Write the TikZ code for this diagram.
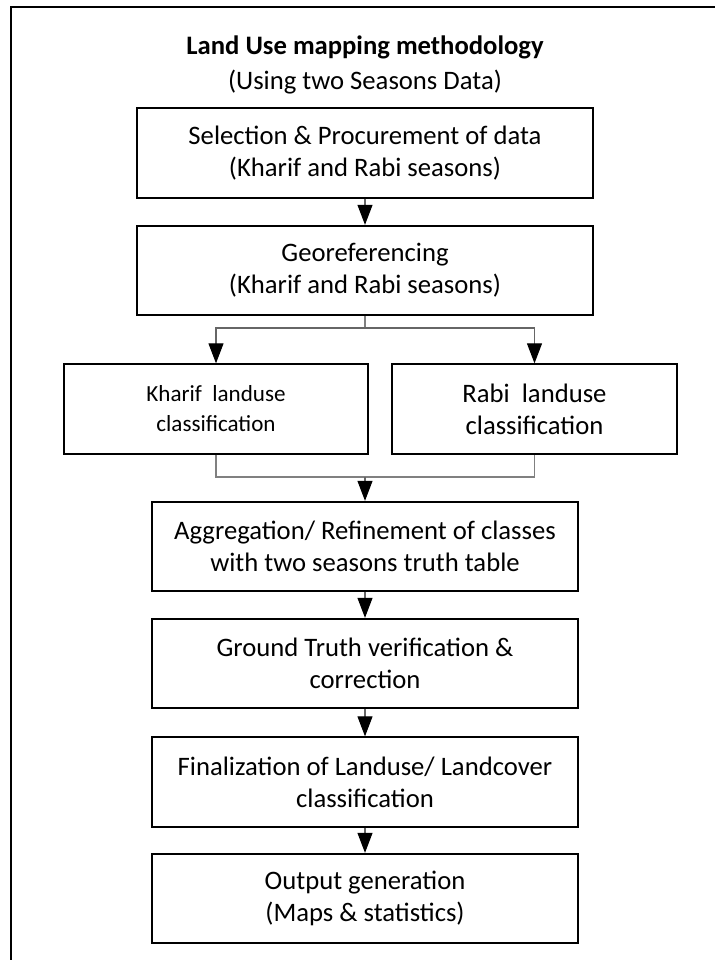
\documentclass[tikz,border=0pt]{standalone}
\usepackage{fontspec}
\setmainfont{Carlito}
\usepackage{tikz}
\usetikzlibrary{arrows.meta}
\tikzset{>={Triangle[length=15pt, width=11.25pt, black]}}
\tikzset{font=\fontsize{20}{24}\selectfont}
\tikzset{stage/.style={draw, line width=1.5pt, align=center, inner sep=0pt, minimum height=67pt},
  widebox/.style={stage, minimum width=342pt},
  narrowbox/.style={stage, minimum width=319.5pt},
  link/.style={->, gray!80!black, line width=0.8pt},
  branch/.style={gray, line width=0.8pt}}

\begin{document}
\begin{tikzpicture}[x=0.75pt, y=0.75pt]
  \useasboundingbox (0,0) rectangle (715,-960);
  % frame, only its left and top edges show
  \coordinate (frameBL) at (11,-960);
  \coordinate (frameTR) at (715,-7);
  \draw[line width=1.1pt] (frameBL) |- (frameTR);

  \node[font=\fontsize{20}{24}\selectfont\bfseries] (title) at (365,-47) {Land Use mapping methodology};
  \node (subtitle) at (365,-82) {(Using two Seasons Data)};

  \node[widebox] (select) at (365,-153) {Selection \& Procurement of data\\(Kharif and Rabi seasons)};
  \node[widebox] (georef) at (365,-270.5) {Georeferencing\\(Kharif and Rabi seasons)};

  \node[stage, minimum width=228pt, font=\fontsize{17.3}{22.5}\selectfont] (kharif) at (216,-409) {Kharif\ \ landuse\\classification};
  \node[stage, minimum width=213.75pt] (rabi) at (534.5,-409) {Rabi\ \ landuse\\classification};

  \node[narrowbox] (aggreg) at (365,-546.5) {Aggregation/ Refinement of classes\\with two seasons truth table};
  \node[narrowbox] (ground) at (365,-663.5) {Ground Truth verification \&\\correction};
  \node[narrowbox] (final) at (365,-782) {Finalization of Landuse/ Landcover\\classification};
  \node[narrowbox] (output) at (365,-898.5) {Output generation\\(Maps \& statistics)};

  \draw[link] (select) -- (georef);
  % split to the two seasons
  \coordinate (split) at (365,-328);
  \draw[branch] (georef.south) -- (split);
  \draw[link] (split) -| (kharif.north);
  \draw[link] (split) -| (rabi.north);
  % merge again
  \coordinate (merge) at (365,-477);
  \draw[branch] (kharif.south) |- (merge) -| (rabi.south);
  \draw[link] (merge) -- (aggreg);
  \draw[link] (aggreg) -- (ground);
  \draw[link] (ground) -- (final);
  \draw[link] (final) -- (output);
\end{tikzpicture}
\end{document}
